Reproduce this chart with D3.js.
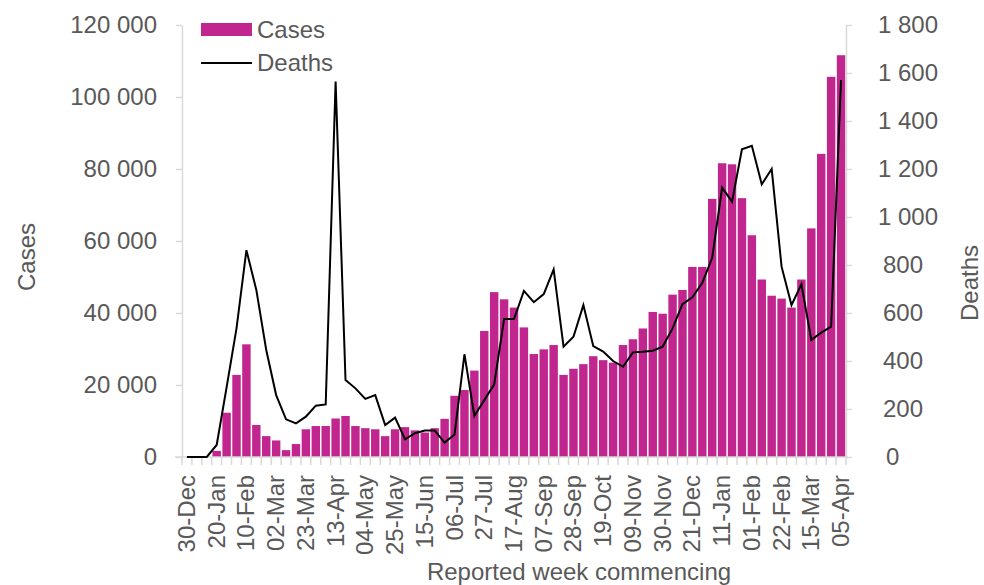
<!DOCTYPE html>
<html>
<head>
<meta charset="UTF-8">
<style>
  body { margin: 0; background: #fff; }
  svg { display: block; font-family: "Liberation Sans", Arial, sans-serif; }
  .axis text { fill: #595959; font-size: 24px; }
  .axis line, .axis path { stroke: #d9d9d9; stroke-width: 1.5; }
</style>
</head>
<body>
<svg></svg>
<script src="https://d3js.org/d3.v7.min.js"></script>
<script>

let width = 984, height = 585;

// week commencing labels (30-Dec-2019 .. 05-Apr-2021)
var weeks = ["30-Dec","06-Jan","13-Jan","20-Jan","27-Jan","03-Feb","10-Feb","17-Feb","24-Feb",
  "02-Mar","09-Mar","16-Mar","23-Mar","30-Mar","06-Apr","13-Apr","20-Apr","27-Apr",
  "04-May","11-May","18-May","25-May","01-Jun","08-Jun","15-Jun","22-Jun","29-Jun",
  "06-Jul","13-Jul","20-Jul","27-Jul","03-Aug","10-Aug","17-Aug","24-Aug","31-Aug",
  "07-Sep","14-Sep","21-Sep","28-Sep","05-Oct","12-Oct","19-Oct","26-Oct",
  "02-Nov","09-Nov","16-Nov","23-Nov","30-Nov","07-Dec","14-Dec","21-Dec","28-Dec",
  "04-Jan","11-Jan","18-Jan","25-Jan","01-Feb","08-Feb","15-Feb","22-Feb",
  "01-Mar","08-Mar","15-Mar","22-Mar","29-Mar","05-Apr"];

var cases = [0,0,0,1700,12300,22800,31300,8900,5800,4600,1900,3600,7700,8600,8600,10700,11400,8600,
  8000,7700,5800,7700,8300,7400,6800,8000,10600,17000,18600,24000,35000,45800,43800,41500,36000,28600,
  29900,31100,22800,24500,25800,28000,26900,26200,31100,32700,35700,40300,39800,45100,46400,52800,52800,
  71700,81600,81300,71900,61600,49300,44800,44000,41500,49300,63500,84200,105600,111600];

var deaths = [0,0,0,50,290,536,862,696,446,258,157,140,168,214,219,1564,321,286,
  242,258,133,164,74,99,110,110,60,94,428,171,237,303,575,575,692,645,
  679,782,460,501,633,462,439,400,376,436,439,443,460,536,637,665,726,
  830,1122,1064,1282,1297,1136,1200,793,633,720,488,518,543,1571];

var caseTicks = [0,20000,40000,60000,80000,100000,120000];
var deathTicks = [0,200,400,600,800,1000,1200,1400,1600,1800];

let svg = d3.select("svg")
    .attr("width", width)
    .attr("height", height);

let plot = {left: 182, right: 846, top: 25, bottom: 457};

var x = d3.scaleBand()
    .domain(d3.range(weeks.length))
    .range([plot.left, plot.right])
    .paddingInner(0.15)
    .paddingOuter(0.075);

var yCases = d3.scaleLinear().domain([0, 120000]).range([plot.bottom, plot.top]);
var yDeaths = d3.scaleLinear().domain([0, 1800]).range([plot.bottom, plot.top]);

// thousands separated by a space
var fmt = v => d3.format(",")(v).replace(/,/g, "\u00a0");

// bars
svg.append("g")
    .selectAll("rect")
    .data(cases)
    .enter().append("rect")
    .attr("x", (d, i) => x(i))
    .attr("width", x.bandwidth())
    .attr("y", d => yCases(d))
    .attr("height", d => plot.bottom - yCases(d))
    .attr("fill", "#c1268f");

// left axis
svg.append("g")
    .attr("class", "axis")
    .attr("transform", `translate(${plot.left},0)`)
    .call(d3.axisLeft(yCases).tickValues(caseTicks).tickFormat(fmt).tickSize(6).tickSizeOuter(0).tickPadding(19));

// right axis
var rightAxis = svg.append("g")
    .attr("class", "axis")
    .attr("transform", `translate(${plot.right},0)`)
    .call(d3.axisRight(yDeaths).tickValues(deathTicks).tickFormat(fmt).tickSize(6).tickSizeOuter(0).tickPadding(26));
rightAxis.selectAll(".tick text")
    .attr("dx", d => d < 1000 ? (d == 0 ? 8 : 5) : 0);

// bottom axis: a tick at every week boundary, labels every third week
var step = (plot.right - plot.left) / weeks.length;
var xAxis = svg.append("g")
    .attr("class", "axis")
    .attr("transform", `translate(0,${plot.bottom})`);
xAxis.append("line")
    .attr("x1", plot.left - 7).attr("x2", plot.right + 2);
xAxis.selectAll(".tk")
    .data(d3.range(weeks.length + 1))
    .enter().append("line")
    .attr("class", "tk")
    .attr("x1", i => plot.left + i * step)
    .attr("x2", i => plot.left + i * step)
    .attr("y1", 0).attr("y2", 8);
xAxis.selectAll(".lbl")
    .data(d3.range(0, weeks.length, 3))
    .enter().append("text")
    .attr("class", "lbl")
    .attr("transform", i => `translate(${x(i) + x.bandwidth() / 2 + 8},18) rotate(-90)`)
    .attr("text-anchor", "end")
    .text(i => weeks[i]);

// deaths line
var line = d3.line()
    .x((d, i) => x(i) + x.bandwidth() / 2)
    .y(d => yDeaths(d));
svg.append("path")
    .datum(deaths)
    .attr("d", line)
    .attr("fill", "none")
    .attr("stroke", "#000")
    .attr("stroke-width", 2);

// axis titles
var title = svg.append("g").attr("class", "axis");
title.append("text")
    .attr("transform", "translate(35,257) rotate(-90)")
    .attr("text-anchor", "middle")
    .text("Cases");
title.append("text")
    .attr("transform", "translate(978,283) rotate(-90)")
    .attr("text-anchor", "middle")
    .text("Deaths");
title.append("text")
    .attr("x", 579).attr("y", 580)
    .attr("text-anchor", "middle")
    .text("Reported week commencing");

// legend
var legend = svg.append("g").attr("class", "axis");
legend.append("rect")
    .attr("x", 201).attr("y", 23).attr("width", 51).attr("height", 13)
    .attr("fill", "#c1268f");
legend.append("text")
    .attr("x", 257).attr("y", 30).attr("dy", "0.35em")
    .text("Cases");
legend.append("line")
    .attr("x1", 201).attr("x2", 252).attr("y1", 63).attr("y2", 63)
    .style("stroke", "#000").style("stroke-width", 2);
legend.append("text")
    .attr("x", 257).attr("y", 63).attr("dy", "0.35em")
    .text("Deaths");

</script>
</body>
</html>
